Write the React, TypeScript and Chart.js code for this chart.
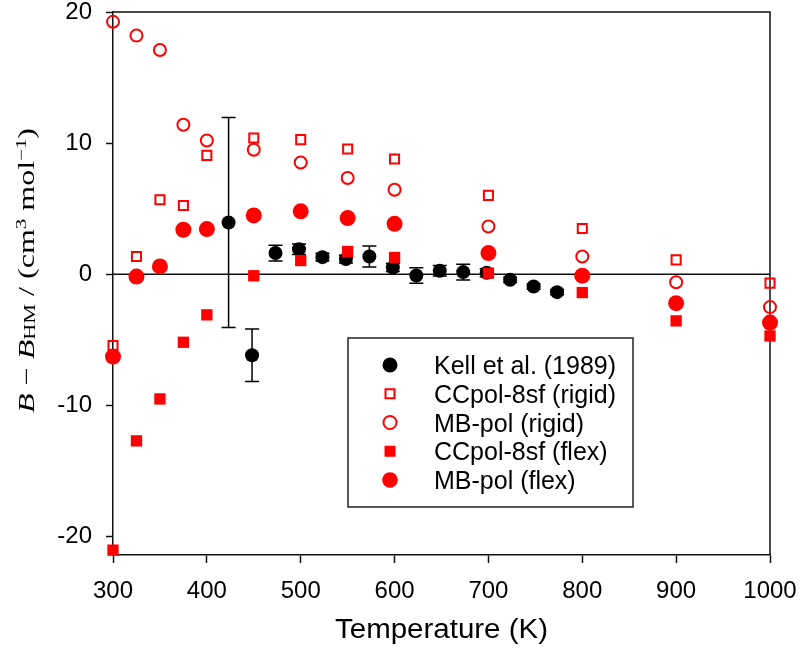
import React, { useEffect, useRef } from 'react';
import { Chart, registerables } from 'chart.js';

Chart.register(...registerables);

// ---- Data ----
const kellT = [423.15, 448.15, 473.15, 498.15, 523.15, 548.15, 573.15, 598.15, 623.15, 648.15, 673.15, 698.15, 723.15, 748.15, 773.15];
const kellB = [3.95, -6.17, 1.62, 1.92, 1.31, 1.16, 1.36, 0.52, -0.09, 0.27, 0.17, 0.12, -0.42, -0.93, -1.36];
const kellErr = [8.0, 2.0, 0.6, 0.4, 0.3, 0.3, 0.8, 0.3, 0.6, 0.4, 0.6, 0.3, 0.2, 0.2, 0.2];

const calcT = [300, 325, 350, 375, 400, 450, 500, 550, 600, 700, 800, 900, 1000];
const ccpolRigid = [-5.43, 1.36, 5.69, 5.25, 9.07, 10.4, 10.27, 9.56, 8.79, 6.02, 3.5, 1.1, -0.67];
const mbpolRigid = [19.25, 18.2, 17.1, 11.4, 10.2, 9.5, 8.53, 7.34, 6.45, 3.65, 1.36, -0.6, -2.5];
const ccpolFlex = [-21.03, -12.7, -9.5, -5.18, -3.09, -0.11, 1.05, 1.74, 1.28, 0.09, -1.39, -3.55, -4.7];
const mbpolFlex = [-6.27, -0.17, 0.6, 3.4, 3.45, 4.49, 4.8, 4.29, 3.85, 1.62, -0.1, -2.2, -3.68];

const seriesLabels = ['Kell et al. (1989)', 'CCpol-8sf (rigid)', 'MB-pol (rigid)', 'CCpol-8sf (flex)', 'MB-pol (flex)'];

const xTitle = 'Temperature (K)';
const xMin = 300;
const xMax = 1000;
const xStep = 100;
const yMin = -21.4;
const yMax = 20;
const yStep = 10;

const RED = '#ff0000';
const SANS = '"Liberation Sans", Arial, sans-serif';
const SERIF = '"Liberation Serif", "Times New Roman", serif';

const toPts = (xs: number[], ys: number[]) => xs.map((x, i) => ({ x, y: ys[i] }));

const framePlugin = {
  id: 'frame',
  beforeDatasetsDraw(chart: any) {
    const { ctx, chartArea: a, scales } = chart;
    ctx.save();
    ctx.strokeStyle = '#111';
    ctx.lineWidth = 1.5;
    ctx.beginPath();
    ctx.moveTo(a.left, a.top);
    ctx.lineTo(a.right, a.top);
    ctx.lineTo(a.right, a.bottom);
    const y0 = scales.y.getPixelForValue(0);
    ctx.moveTo(a.left, y0);
    ctx.lineTo(a.right, y0);
    ctx.stroke();
    // error bars for Kell data
    ctx.strokeStyle = '#000';
    ctx.lineWidth = 1.5;
    const cap = 7;
    kellT.forEach((t, i) => {
      const px = scales.x.getPixelForValue(t);
      const top = scales.y.getPixelForValue(kellB[i] + kellErr[i]);
      const bot = scales.y.getPixelForValue(kellB[i] - kellErr[i]);
      ctx.beginPath();
      ctx.moveTo(px, top);
      ctx.lineTo(px, bot);
      ctx.moveTo(px - cap, top);
      ctx.lineTo(px + cap, top);
      ctx.moveTo(px - cap, bot);
      ctx.lineTo(px + cap, bot);
      ctx.stroke();
    });
    ctx.restore();
  },
};

const drawMarker = (ctx: CanvasRenderingContext2D, kind: string, x: number, y: number) => {
  ctx.save();
  ctx.lineWidth = 2;
  ctx.strokeStyle = RED;
  ctx.fillStyle = RED;
  if (kind === 'kell') {
    ctx.fillStyle = '#000';
    ctx.beginPath();
    ctx.arc(x, y, 7.5, 0, Math.PI * 2);
    ctx.fill();
  } else if (kind === 'openSq') {
    ctx.strokeRect(x - 4.5, y - 4.5, 9, 9);
  } else if (kind === 'openCirc') {
    ctx.beginPath();
    ctx.arc(x, y, 6.5, 0, Math.PI * 2);
    ctx.stroke();
  } else if (kind === 'fillSq') {
    ctx.fillRect(x - 5.5, y - 5.5, 11, 11);
  } else {
    ctx.beginPath();
    ctx.arc(x, y, 7.8, 0, Math.PI * 2);
    ctx.fill();
  }
  ctx.restore();
};

const legendKinds = ['kell', 'openSq', 'openCirc', 'fillSq', 'fillCirc'];

const annotPlugin = {
  id: 'annot',
  afterDraw(chart: any) {
    const { ctx, chartArea: a } = chart;
    ctx.save();
    // legend box
    const lx = a.left + 235;
    const ly = a.top + 326;
    const lw = 285;
    const lh = 169;
    ctx.fillStyle = '#fff';
    ctx.fillRect(lx, ly, lw, lh);
    ctx.strokeStyle = '#222';
    ctx.lineWidth = 1.5;
    ctx.strokeRect(lx, ly, lw, lh);
    ctx.font = `25px ${SANS}`;
    ctx.textAlign = 'left';
    ctx.textBaseline = 'alphabetic';
    seriesLabels.forEach((lab, i) => {
      const cy = ly + 27 + i * 28.75;
      drawMarker(ctx, legendKinds[i], lx + 42, cy);
      ctx.fillStyle = '#000';
      ctx.fillText(lab, lx + 86, cy + 9);
    });

    // x title
    ctx.font = `27px ${SANS}`;
    const tw = ctx.measureText(xTitle).width;
    const sx = 213 / tw;
    ctx.save();
    ctx.translate((a.left + a.right) / 2, 638);
    ctx.scale(sx, 1);
    ctx.textAlign = 'center';
    ctx.fillStyle = '#000';
    ctx.fillText(xTitle, 0, 0);
    ctx.restore();

    // y title (rotated, mixed styles)
    const segs = [
      { t: 'B', it: true, s: 23, dy: 0 },
      { t: ' \u2212 ', it: false, s: 23, dy: 0 },
      { t: 'B', it: true, s: 23, dy: 0 },
      { t: 'HM', it: false, s: 16, dy: 1 },
      { t: ' / (cm', it: false, s: 23, dy: 0 },
      { t: '3', it: false, s: 15, dy: -8 },
      { t: ' mol', it: false, s: 23, dy: 0 },
      { t: '\u22121', it: false, s: 15, dy: -8 },
      { t: ')', it: false, s: 23, dy: 0 },
    ];
    const fontOf = (g: any) => `${g.it ? 'italic ' : ''}${g.s}px ${SERIF}`;
    let total = 0;
    const widths = segs.map((g) => {
      ctx.font = fontOf(g);
      const w = ctx.measureText(g.t).width;
      total += w;
      return w;
    });
    const sy = 285 / total;
    ctx.save();
    ctx.translate(34, 270.5);
    ctx.rotate(-Math.PI / 2);
    ctx.scale(sy, 1);
    ctx.textAlign = 'left';
    ctx.fillStyle = '#000';
    let cx = -total / 2;
    segs.forEach((g, i) => {
      ctx.font = fontOf(g);
      ctx.fillText(g.t, cx, g.dy);
      cx += widths[i];
    });
    ctx.restore();
    ctx.restore();
  },
};

export default function App() {
  const ref = useRef<HTMLCanvasElement | null>(null);

  useEffect(() => {
    if (!ref.current) return;
    const tickFont = { family: SANS, size: 24 };
    const chart = new Chart(ref.current, {
      type: 'scatter',
      data: {
        datasets: [
          {
            label: seriesLabels[0],
            data: toPts(kellT, kellB),
            pointStyle: 'circle',
            pointRadius: 7,
            backgroundColor: '#000',
            borderColor: '#000',
            borderWidth: 0,
            order: 5,
            clip: false,
          },
          {
            label: seriesLabels[1],
            data: toPts(calcT, ccpolRigid),
            pointStyle: 'rect',
            pointRadius: 6.4,
            backgroundColor: 'rgba(0,0,0,0)',
            borderColor: RED,
            borderWidth: 2,
            order: 4,
            clip: false,
          },
          {
            label: seriesLabels[2],
            data: toPts(calcT, mbpolRigid),
            pointStyle: 'circle',
            pointRadius: 6,
            backgroundColor: 'rgba(0,0,0,0)',
            borderColor: RED,
            borderWidth: 2,
            order: 3,
            clip: false,
          },
          {
            label: seriesLabels[3],
            data: toPts(calcT, ccpolFlex),
            pointStyle: 'rect',
            pointRadius: 8,
            backgroundColor: RED,
            borderColor: RED,
            borderWidth: 0,
            order: 2,
            clip: false,
          },
          {
            label: seriesLabels[4],
            data: toPts(calcT, mbpolFlex),
            pointStyle: 'circle',
            pointRadius: 8,
            backgroundColor: RED,
            borderColor: RED,
            borderWidth: 0,
            order: 1,
            clip: false,
          },
        ],
      },
      options: {
        animation: false,
        responsive: true,
        maintainAspectRatio: false,
        layout: { padding: { left: 0, right: 30, top: 12, bottom: 0 } },
        plugins: {
          legend: { display: false },
          tooltip: { enabled: false },
        },
        scales: {
          x: {
            type: 'linear',
            min: xMin,
            max: xMax,
            ticks: {
              stepSize: xStep,
              font: tickFont,
              color: '#000',
              padding: 14,
              maxRotation: 0,
              includeBounds: false,
              callback: (v: any) => String(v),
            },
            grid: { drawOnChartArea: false, drawTicks: true, tickLength: 8, color: '#111', tickWidth: 1.5 },
            border: { color: '#111', width: 1.5 },
            afterFit: (s: any) => {
              s.height = 95;
              s.paddingLeft = 0;
              s.paddingRight = 0;
            },
          },
          y: {
            type: 'linear',
            min: yMin,
            max: yMax,
            ticks: {
              stepSize: yStep,
              font: tickFont,
              color: '#000',
              padding: 14,
              includeBounds: false,
              callback: (v: any) => String(v),
            },
            grid: { drawOnChartArea: false, drawTicks: true, tickLength: 7, color: '#111', tickWidth: 1.5 },
            border: { color: '#111', width: 1.5 },
            afterFit: (s: any) => {
              s.width = 113;
              s.paddingTop = 0;
              s.paddingBottom = 0;
            },
          },
        },
      },
      plugins: [framePlugin, annotPlugin],
    } as any);
    return () => chart.destroy();
  }, []);

  return (
    <div style={{ position: 'fixed', left: 0, top: 0, width: 800, height: 650, background: '#fff' }}>
      <canvas ref={ref} />
    </div>
  );
}
